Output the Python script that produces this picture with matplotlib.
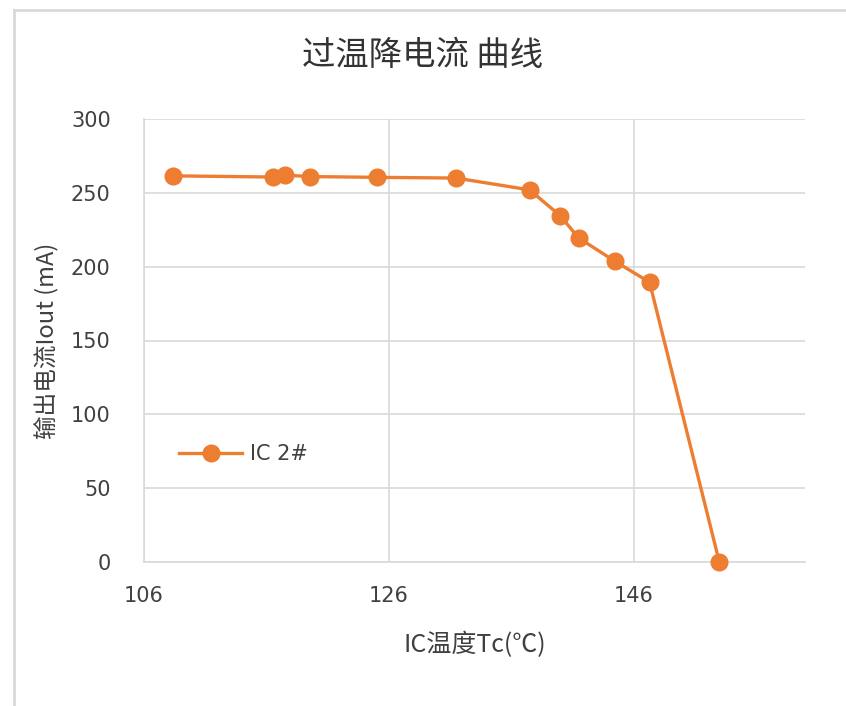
import matplotlib
matplotlib.use('Agg')
import matplotlib.pyplot as plt
from matplotlib.lines import Line2D

plt.rcParams['font.family'] = ['Noto Sans CJK SC', 'DejaVu Sans']

# data
temp_c = [108.4, 116.5, 117.5, 119.6, 125.0, 131.5, 137.5, 140.0, 141.5, 144.5, 147.3, 153.0]
iout_ma = [261.5, 260.7, 262.0, 261.0, 260.5, 260.0, 252.0, 234.5, 219.5, 203.5, 189.5, 0.0]
x_ticks = [106, 126, 146]
y_ticks = [0, 50, 100, 150, 200, 250, 300]
series_name = 'IC 2#'

orange = '#ED7D31'
grid_grey = '#D9D9D9'
text_grey = '#404040'

fig = plt.figure(figsize=(8.46, 7.06), dpi=100)
ax = fig.add_axes([144/846, 1 - 562/706, (805 - 144)/846, (562 - 119)/706])

ax.plot(temp_c, iout_ma, color=orange, lw=2.4, marker='o', ms=12,
        markeredgecolor=orange, label=series_name, zorder=3, clip_on=False)

ax.set_xlim(106, 160)
ax.set_ylim(0, 300)
ax.set_xticks(x_ticks)
ax.set_yticks(y_ticks)
ax.grid(True, color=grid_grey, lw=1.2)
ax.set_axisbelow(True)
for side in ['top', 'right']:
    ax.spines[side].set_visible(False)
for side in ['left', 'bottom']:
    ax.spines[side].set_color(grid_grey)
    ax.spines[side].set_linewidth(1.2)
ax.tick_params(length=0, labelsize=15, colors=text_grey)
ax.tick_params(axis='x', pad=17)
ax.tick_params(axis='y', pad=24)
for lab in ax.get_xticklabels() + ax.get_yticklabels():
    lab.set_family('DejaVu Sans')

ax.set_xlabel('IC温度Tc(℃)', fontsize=18, color=text_grey, labelpad=19)
ax.set_ylabel('输出电流Iout (mA)', fontsize=17, color=text_grey, labelpad=8)
fig.text(0.5, 1 - 55/706, '过温降电流 曲线', ha='center', va='center',
         fontsize=24, color='#333333')

handle = Line2D([], [], color=orange, lw=2.4, marker='o', ms=12)
leg = ax.legend([handle], [series_name], loc='center left',
                bbox_to_anchor=(0.025, 0.243), frameon=False, fontsize=15,
                handlelength=3.0, handletextpad=0.4, labelcolor=text_grey)
for t in leg.get_texts():
    t.set_family('DejaVu Sans')

# outer chart frame (left and top edges visible in the reference)
fig.add_artist(Line2D([14/846, 14/846], [0, 1 - 10/706], color=grid_grey, lw=2,
                      transform=fig.transFigure))
fig.add_artist(Line2D([14/846, 1], [1 - 10/706, 1 - 10/706], color=grid_grey, lw=2,
                      transform=fig.transFigure))

fig.savefig('out.png', dpi=100)
